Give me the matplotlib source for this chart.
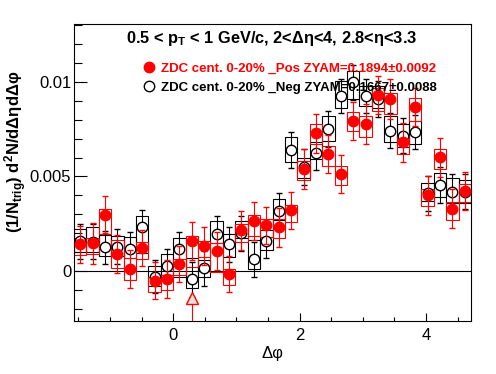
import numpy as np
import matplotlib.pyplot as plt
from matplotlib.lines import Line2D
from matplotlib.ticker import MultipleLocator

plt.rcParams['font.family'] = ['Liberation Sans', 'DejaVu Sans']
plt.rcParams['mathtext.fontset'] = 'custom'
plt.rcParams['mathtext.rm'] = 'Liberation Sans'
plt.rcParams['mathtext.bf'] = 'Liberation Sans:bold'
plt.rcParams['mathtext.it'] = 'Liberation Sans:italic'

# 32 bins in delta phi from -pi/2 to 3pi/2 (values below in units of 1e-3)
n_bins = 32
edges = np.linspace(-np.pi / 2, 3 * np.pi / 2, n_bins + 1)
centers = 0.5 * (edges[:-1] + edges[1:])
bin_w = edges[1] - edges[0]

pos_val = [1.42, 1.46, 2.98, 0.89, 0.09, 1.23, -0.51, -0.44, 0.37, 1.58, 1.33, 1.07,
           -0.18, 2.16, 2.65, 2.42, 2.31, 3.21, 5.40, 7.28, 6.19, 5.14, 7.95, 7.77,
           9.30, 9.09, 6.80, 8.68, 4.00, 6.02, 3.30, 4.21]
pos_err = [0.98, 1.07, 0.99, 0.99, 1.01, 0.96, 0.98, 1.01, 0.96, 0.99, 1.01, 1.01,
           0.96, 1.03, 1.00, 0.98, 1.03, 0.99, 1.05, 1.03, 1.02, 1.01, 1.00, 1.05,
           1.01, 1.05, 1.01, 1.01, 1.03, 1.03, 1.03, 1.01]
pos_box_hi = [1.72, 1.72, 3.30, 1.63, 0.67, 1.51, -0.30, -0.21, 0.61, 1.84, 1.60, 1.46,
              0.09, 2.51, 2.95, 2.77, 2.77, 3.51, 5.84, 7.77, 6.63, 5.53, 8.42, 8.21,
              9.70, 9.44, 7.16, 9.17, 4.35, 6.45, 3.65, 4.58]
pos_box_lo = [0.84, 0.88, 1.95, 0.14, -0.47, 0.61, -1.12, -1.00, -0.21, 0.23, 0.75, -0.04,
              -0.77, 1.54, 1.84, 1.81, 1.72, 2.60, 4.79, 6.72, 5.58, 4.53, 7.42, 7.07,
              8.47, 8.30, 6.19, 7.95, 3.42, 5.40, 2.72, 3.65]

neg_val = [1.56, 1.54, 1.25, 1.28, 1.16, 2.32, -0.30, 0.26, 1.16, -0.44, 0.14, 1.98,
           1.40, 2.00, 0.61, 1.58, 3.17, 6.40, 5.50, 6.25, 7.52, 9.26, 9.98, 9.26,
           9.10, 7.42, 7.16, 7.37, 4.10, 4.53, 4.17, 4.20]
neg_err = [0.93, 0.93, 0.89, 0.92, 0.92, 0.92, 0.89, 0.92, 0.92, 0.92, 0.92, 0.92,
           0.92, 0.92, 0.92, 0.92, 0.94, 0.96, 0.94, 0.92, 0.94, 0.92, 0.94, 0.92,
           0.94, 0.92, 0.92, 0.90, 0.94, 0.96, 0.96, 0.94]
neg_box_hi = [2.23, 2.30, 1.89, 1.84, 1.81, 2.89, 0.28, 0.88, 1.72, 0.67, 0.58, 2.65,
              1.98, 2.63, 1.63, 2.16, 3.82, 7.07, 5.98, 6.84, 8.21, 10.05, 10.58, 9.79,
              9.80, 8.21, 7.77, 7.95, 4.64, 5.20, 4.90, 4.81]
neg_box_lo = [1.02, 1.02, 0.79, 0.79, 0.67, 0.93, -0.82, -0.21, -0.30, -0.91, -0.30, 1.46,
              0.75, 1.72, 0.09, 1.11, 2.68, 5.75, 4.90, 5.90, 6.89, 8.61, 9.09, 8.73,
              8.60, 6.80, 6.54, 6.72, 3.70, 3.90, 3.60, 3.60]

# extra point drawn as open triangle (bin 9)
tri_bin = 9
tri_val = -1.43
tri_err_lo = 2.5

pos_label = 'ZDC cent. 0-20% _Pos ZYAM=0.1894\u00b10.0092'
neg_label = 'ZDC cent. 0-20% _Neg ZYAM=0.1667\u00b10.0088'
title = r'0.5 < p$_{\mathbf{T}}$ < 1 GeV/c, 2<Δη<4, 2.8<η<3.3'

s = 1e-3
lw = 0.8
fig = plt.figure(figsize=(4.96, 3.74), dpi=100)
ax = fig.add_axes([74 / 496, 1 - 321 / 374, 397 / 496, 297 / 374])

for vals, errs, lo, hi, col, face in [
        (neg_val, neg_err, neg_box_lo, neg_box_hi, 'black', 'white'),
        (pos_val, pos_err, pos_box_lo, pos_box_hi, 'red', 'red')]:
    lo = np.array(lo) * s
    hi = np.array(hi) * s
    ax.bar(centers, hi - lo, bottom=lo, width=bin_w, fill=False,
           edgecolor=col, linewidth=lw, zorder=2)
    ax.errorbar(centers, np.array(vals) * s, yerr=np.array(errs) * s, fmt='o',
                color=col, mfc=face, mec=col, ms=7.5, mew=1.0, elinewidth=lw,
                capsize=2.3, capthick=lw, zorder=3 if col == 'black' else 4)

ax.errorbar([centers[tri_bin]], [tri_val * s], yerr=[[tri_err_lo * s], [0]],
            fmt='^', color='red', mfc='#e0e0e0', mec='red', ms=8, mew=1.0,
            elinewidth=lw, capsize=0, zorder=4)

ax.axhline(0, color='black', linewidth=lw, zorder=1)

ax.set_xlim(-np.pi / 2, 3 * np.pi / 2)
ax.set_ylim(-0.00265, 0.01307)
ax.xaxis.set_minor_locator(MultipleLocator(0.5))
ax.yaxis.set_minor_locator(MultipleLocator(0.001))
ax.set_yticks([0, 0.005, 0.01])
ax.set_yticklabels(['0', '0.005', '0.01'])
ax.set_xticks([0, 2, 4])
ax.set_xticklabels(['0', '2', '4'])
ax.tick_params(which='both', direction='in', top=False, right=False,
               labelsize=12, width=lw)
ax.tick_params(axis='x', which='major', length=6, pad=5)
ax.tick_params(axis='x', which='minor', length=3)
ax.tick_params(axis='y', which='major', length=9.5, pad=2)
ax.tick_params(axis='y', which='minor', length=5.5)
for sp in ax.spines.values():
    sp.set_linewidth(lw)

ax.set_xlabel('Δφ', fontsize=12)
ax.xaxis.set_label_coords(0.5, -0.085)
fig.text(16 / 496, 1 - 152 / 374,
         r'(1/N$_{\mathbf{trig}}$) d$^{\mathbf{2}}$N/dΔηdΔφ',
         rotation=90, ha='center', va='center', fontsize=12, fontweight='bold')

fig.text(272 / 496, 1 - 38 / 374, title, ha='center', va='center',
         fontsize=11.8, fontweight='bold')

handles = [Line2D([], [], marker='o', ls='', color='red', ms=7.5),
           Line2D([], [], marker='o', ls='', mfc='white', mec='black', ms=7.5, mew=1.0)]
leg = fig.legend(handles, [pos_label, neg_label], loc='upper left',
                 bbox_to_anchor=(136 / 496, 1 - 57 / 374), frameon=False,
                 prop={'size': 9.5, 'weight': 'bold'}, handletextpad=0.3,
                 handlelength=1.2, labelspacing=0.55, borderaxespad=0)
leg.get_texts()[0].set_color('red')
leg.get_texts()[1].set_color('black')

fig.savefig('out.png', dpi=100)
